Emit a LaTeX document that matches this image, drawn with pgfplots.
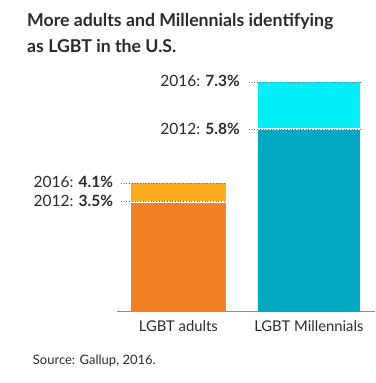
\documentclass[border=0pt]{standalone}
\usepackage{pgfplots}
\pgfplotsset{compat=1.18}
\usepackage{fontspec}
\setmainfont{Lato}
\definecolor{darkorange}{HTML}{F28124}
\definecolor{lightorange}{HTML}{FBAE1A}
\definecolor{teal}{HTML}{00A9BF}
\definecolor{cyanb}{HTML}{00EFF9}
\definecolor{txt}{HTML}{2A2A2A}
\definecolor{axisgray}{HTML}{8A8A8A}
\definecolor{dotgray}{HTML}{707070}
\begin{document}
\begin{tikzpicture}[x=1pt,y=1pt]
\path[use as bounding box] (0,0) rectangle (375,383);
\node[anchor=base west, font=\fontsize{17.7}{20}\selectfont\bfseries, text=txt, inner sep=0pt] at (27,356) {More adults and Millennials identifying};
\node[anchor=base west, font=\fontsize{17.7}{20}\selectfont\bfseries, text=txt, inner sep=0pt] at (27,330) {as LGBT in the U.S.};
\node[anchor=base west, font=\fontsize{13}{15}\selectfont, text=txt, inner sep=0pt] at (32.7,18.7) {Source: Gallup, 2016.};
\begin{axis}[
  at={(117pt,71pt)}, anchor=south west,
  scale only axis, width=258pt, height=283.5pt,
  xmin=117, xmax=375, ymin=0, ymax=9,
  enlargelimits=false,
  axis x line=bottom, axis y line=none,
  axis line style={-, axisgray, line width=1pt},
  xtick={178.35,308.85},
  xticklabels={LGBT adults, LGBT Millennials},
  xtick style={draw=none},
  xticklabel style={font=\fontsize{14.8}{17}\selectfont, text=txt, yshift=-1pt},
  ybar, bar shift=0pt,
  clip=false,
]
\addplot[fill=lightorange, draw=none, bar width=94.7pt] coordinates {(178.35,4.1)};
\addplot[fill=darkorange, draw=none, bar width=94.7pt] coordinates {(178.35,3.5)};
\addplot[fill=cyanb, draw=none, bar width=102.3pt] coordinates {(308.85,7.3)};
\addplot[fill=teal, draw=none, bar width=102.3pt] coordinates {(308.85,5.8)};
\draw[white, line width=2pt] (axis cs:131,3.5) -- (axis cs:225.7,3.5);
\draw[white, line width=2pt] (axis cs:257.7,5.8) -- (axis cs:360,5.8);
\draw[dotgray, dotted, line width=0.7pt] (axis cs:121,4.1) -- (axis cs:225.7,4.1);
\draw[dotgray, dotted, line width=0.7pt] (axis cs:121,3.5) -- (axis cs:225.7,3.5);
\draw[dotgray, dotted, line width=0.7pt] (axis cs:249,7.3) -- (axis cs:360,7.3);
\draw[dotgray, dotted, line width=0.7pt] (axis cs:249,5.8) -- (axis cs:360,5.8);
\node[anchor=base east, inner sep=0pt, font=\fontsize{15.5}{18}\selectfont, text=txt] at (axis cs:113.3,3.95) {2016: \textbf{4.1\%}};
\node[anchor=base east, inner sep=0pt, font=\fontsize{15.5}{18}\selectfont, text=txt] at (axis cs:113.3,3.35) {2012: \textbf{3.5\%}};
\node[anchor=base east, inner sep=0pt, font=\fontsize{15.5}{18}\selectfont, text=txt] at (axis cs:240,7.15) {2016: \textbf{7.3\%}};
\node[anchor=base east, inner sep=0pt, font=\fontsize{15.5}{18}\selectfont, text=txt] at (axis cs:240,5.65) {2012: \textbf{5.8\%}};
\end{axis}
\end{tikzpicture}
\end{document}
